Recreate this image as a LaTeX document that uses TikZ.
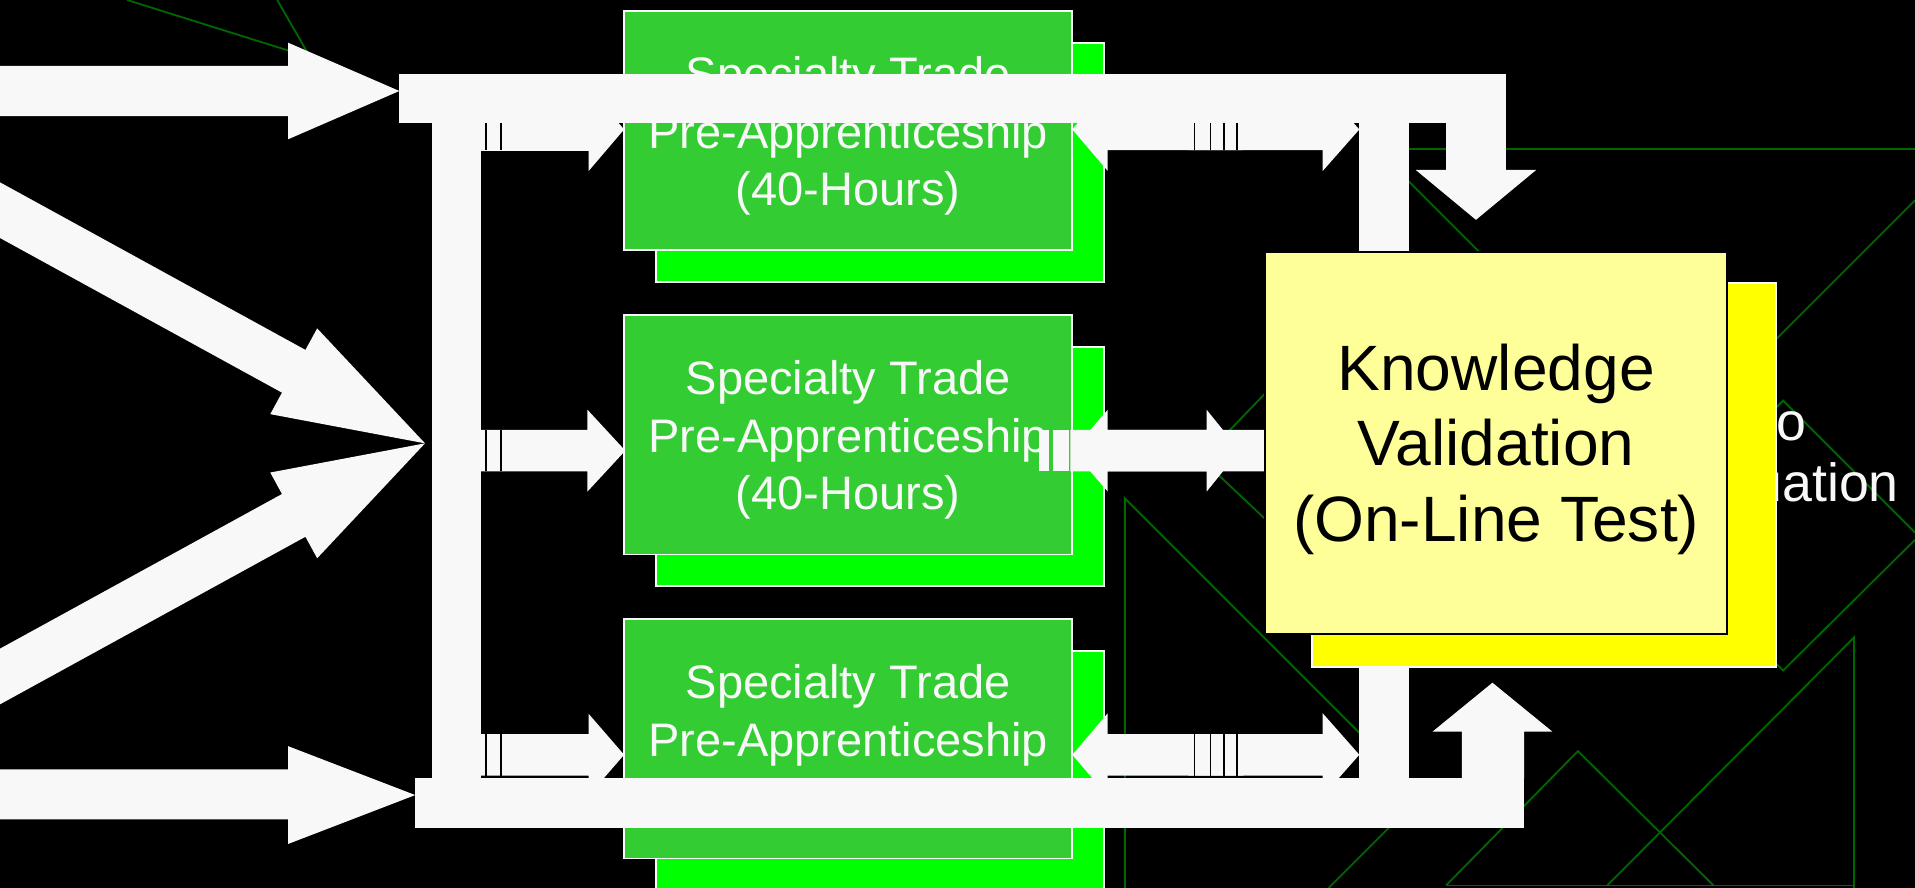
\documentclass[tikz,border=0pt]{standalone}
\usepackage{fontspec}
\setmainfont{Liberation Sans}
\definecolor{wfill}{HTML}{F8F8F8}
\definecolor{gfront}{HTML}{33CC33}
\definecolor{gback}{HTML}{00FF00}
\definecolor{yfront}{HTML}{FFFF99}
\definecolor{yback}{HTML}{FFFF00}
\definecolor{deco}{HTML}{006600}
\tikzset{
  decoline/.style={draw=deco, line width=1.5pt, line join=miter},
  wshape/.style={fill=wfill, draw=none},
  stripegap/.style={draw=black, line width=1.3pt},
  gbox/.style={rectangle, draw=wfill, line width=1.5pt, fill=gfront,
    minimum width=367pt, minimum height=196pt, inner sep=0pt},
  gshadow/.style={gbox, fill=gback},
  gtext/.style={text=wfill, inner sep=0pt, align=center,
    font=\fontsize{38.5pt}{47pt}\selectfont},
  yshadow/.style={rectangle, draw=wfill, line width=1.5pt, fill=yback,
    minimum width=380pt, minimum height=314.5pt, inner sep=0pt},
  ybox/.style={rectangle, draw=black, line width=1.5pt, fill=yfront,
    minimum width=378pt, minimum height=313pt, inner sep=0pt},
  ktext/.style={text=black, inner sep=0pt, align=center,
    font=\fontsize{52.5pt}{62pt}\selectfont},
  fragtext/.style={text=wfill, inner sep=0pt,
    font=\fontsize{44pt}{50pt}\selectfont}
}
% horizontal block arrow: tail x, head base x, tip x, centre y, shaft half, head half
\newcommand\myBlkArrow[6]{\fill[wshape] (#1,#4-#5) -- (#2,#4-#5) -- (#2,#4-#6) -- (#3,#4) -- (#2,#4+#6) -- (#2,#4+#5) -- (#1,#4+#5) -- cycle;}
\begin{document}
\begin{tikzpicture}[x=1pt,y=-1pt]
\useasboundingbox (0,0) rectangle (1568,727);
\clip (0,0) rectangle (1568,727);
\fill[black] (0,0) rectangle (1568,727);

% background template lines
\draw[decoline] (104,0) -- (254,47) -- (227,0);
\draw[decoline] (1127,122) -- (1568,122);
\draw[decoline] (1127,122) -- (1255,250);
\draw[decoline] (1090,266) -- (984,376) -- (1090,476);
\draw[decoline] (921,727) -- (921,408) -- (1160,647);
\draw[decoline] (1088,727) -- (1150,665);
\draw[decoline] (1184,725) -- (1292,615) -- (1403,725);
\draw[decoline] (1184,725) -- (1518,725);
\draw[decoline] (1316,725) -- (1518,522) -- (1518,727);
\draw[decoline] (1568,164) -- (1420,312);
\draw[decoline] (1440,348) -- (1460,328) -- (1568,436);
\draw[decoline] (1568,442) -- (1460,549) -- (1420,509);

% text of a box hidden behind the knowledge box
\node[fragtext, anchor=base east] (frag1) at (1479,361) {o};
\node[fragtext, anchor=base east] (frag2) at (1555,411) {uation};

% specialty trade boxes
\node[gshadow] (s1) at (720.5,133) {};
\node[gbox] (g1) at (694.5,107) {};
\node[gtext, anchor=north] (t1) at (694.5,46.2) {Specialty Trade\\Pre-Apprenticeship\\(40-Hours)};
\node[gshadow] (s2) at (720.5,382) {};
\node[gbox] (g2) at (694.5,356) {};
\node[gtext, anchor=north] (t2) at (694.5,295.2) {Specialty Trade\\Pre-Apprenticeship\\(40-Hours)};
\node[gshadow] (s3) at (720.5,631) {};
\node[gbox] (g3) at (694.5,605) {};
\node[gtext, anchor=north] (t3) at (694.5,544.2) {Specialty Trade\\Pre-Apprenticeship};

% small striped arrows, left side
\myBlkArrow{394}{482}{511}{106}{17.5}{34}
\myBlkArrow{394}{481}{512}{369}{17}{33.5}
\myBlkArrow{394}{482}{511}{618}{17}{33.5}
\foreach \yc in {106,369,618} {
  \draw[stripegap] (398,\yc-17) -- (398,\yc+17);
  \draw[stripegap] (410,\yc-17) -- (410,\yc+17);
}

% small arrows, right side rows 1 and 3
\foreach \yc in {106,618} {
  \myBlkArrow{1018}{907}{878}{\yc}{17}{34}
  \myBlkArrow{973}{1083}{1113}{\yc}{17}{34}
  \foreach \xs in {978,991,1002,1013} {
    \draw[stripegap] (\xs,\yc-17) -- (\xs,\yc+17);
  }
}
% row 2, right side
\myBlkArrow{1036}{907}{878}{369}{17}{33.5}
\fill[wshape] (851,352) rectangle (859,386);
\fill[wshape] (862,352) rectangle (875,386);
\myBlkArrow{876.5}{988}{1015}{369}{17}{33.5}

% main distribution frame
\fill[wshape] (327,61) rectangle (1233,101);
\fill[wshape] (340,637) rectangle (1248,678);
\fill[wshape] (354,61) rectangle (394,678);
\fill[wshape] (1113,100) rectangle (1154,206);
\fill[wshape] (1113,546) rectangle (1154,638);
\fill[wshape] (1184,100) -- (1233,100) -- (1233,139) -- (1258,139) -- (1208.5,180)
  -- (1159,139) -- (1184,139) -- cycle;
\fill[wshape] (1197,638) -- (1197,599) -- (1173,599) -- (1222,559) -- (1271,599)
  -- (1248,599) -- (1248,638) -- cycle;

% incoming arrows
\fill[wshape] (-1,54) -- (236,54) -- (236,35) -- (327,74.5) -- (236,114) -- (236,95) -- (-1,95) -- cycle;
\fill[wshape] (-1,630) -- (236,630) -- (236,611) -- (340,651) -- (236,691) -- (236,671) -- (-1,671) -- cycle;
\fill[wshape] (-10,143.8) -- (250.1,286.5) -- (259.7,268.9) -- (348,363) -- (221.3,339.1)
  -- (230.9,321.5) -- (-10,189.4) -- cycle;
\fill[wshape] (-10,582.2) -- (250.1,439.5) -- (259.7,457.1) -- (348,363) -- (221.3,386.9)
  -- (230.9,404.5) -- (-10,536.6) -- cycle;

% knowledge validation box
\node[yshadow] (kvs) at (1264,388.75) {};
\node[ybox] (kv) at (1225,362.5) {};
\node[ktext, anchor=north] (kvt) at (1225,281.3) {Knowledge\\Validation\\(On-Line Test)};
\end{tikzpicture}
\end{document}
